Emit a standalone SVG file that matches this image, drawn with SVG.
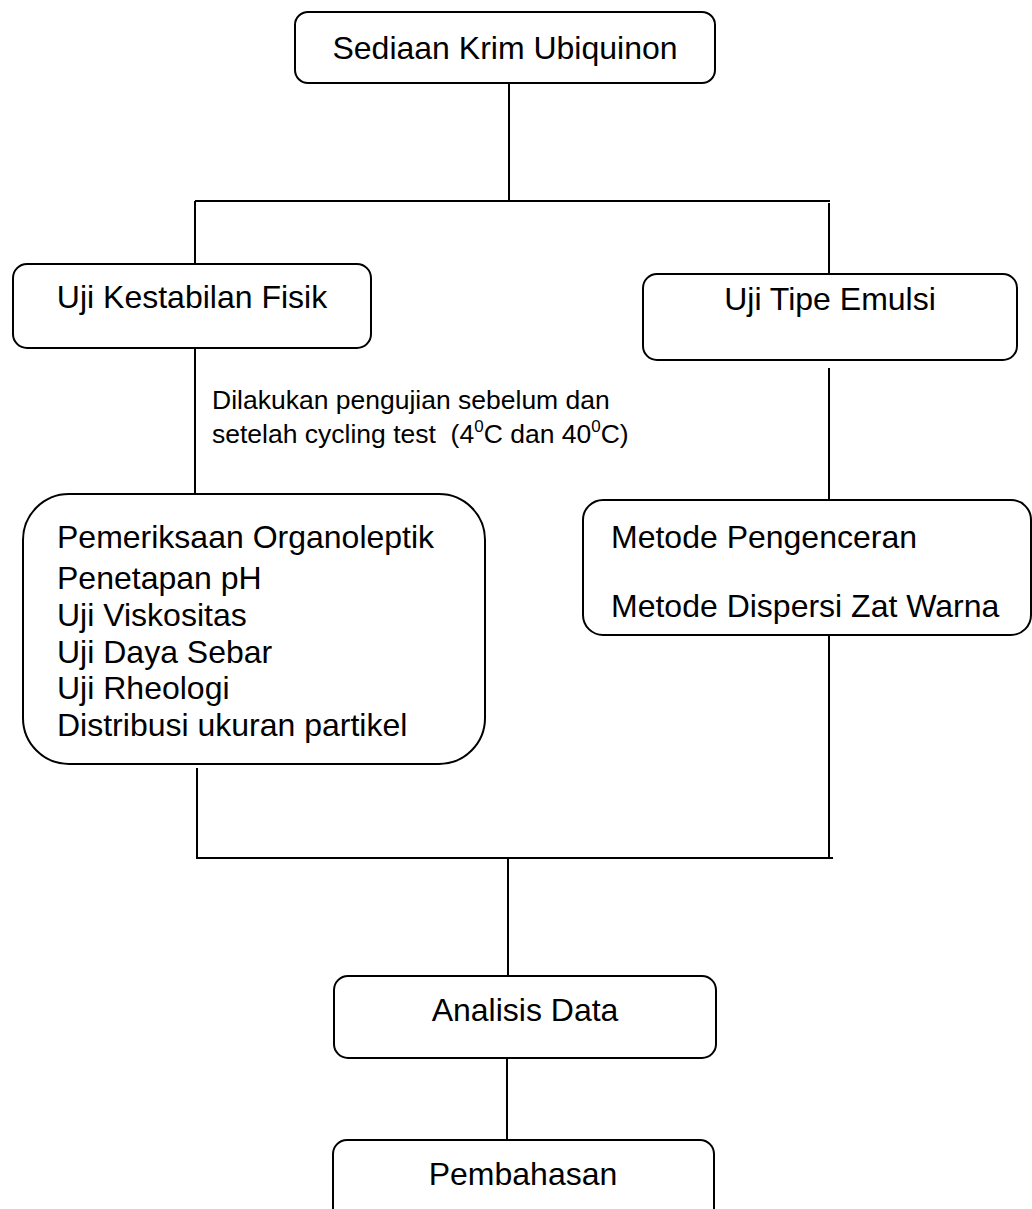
<svg xmlns="http://www.w3.org/2000/svg" width="1032" height="1209" viewBox="0 0 1032 1209">
<style>
.box{fill:#fff;stroke:#000;stroke-width:2}
.ln{fill:none;stroke:#000;stroke-width:2}
.t{font-family:"Liberation Sans",Arial,sans-serif;font-size:32px;fill:#000}
.c{text-anchor:middle}
.s{font-family:"Liberation Sans",Arial,sans-serif;font-size:26.5px;fill:#000}
</style>
<rect width="1032" height="1209" fill="#fff"/>
<g id="connectors">
<path class="ln" d="M509 83V201M195 201H830M195 201V264M829 203V274M195 348V494M829 368V500M197 768V858M829 635V858M196 858H833M508 858V976M507 1058V1140"/>
</g>
<g id="n-sediaan">
<rect class="box" x="295" y="12" width="420" height="71" rx="13"/>
<text class="t c" x="505" y="59">Sediaan Krim Ubiquinon</text>
</g>
<g id="n-kestabilan">
<rect class="box" x="13" y="264" width="358" height="84" rx="14"/>
<text class="t c" x="192" y="308">Uji Kestabilan Fisik</text>
</g>
<g id="n-tipe">
<rect class="box" x="643" y="274" width="374" height="86" rx="14"/>
<text class="t c" x="830" y="310">Uji Tipe Emulsi</text>
</g>
<g id="n-annotation">
<text class="s" x="212" y="409">Dilakukan pengujian sebelum dan</text>
<text class="s" x="212" y="443" xml:space="preserve">setelah cycling test  (4<tspan font-size="17" dy="-11">0</tspan><tspan dy="11">C dan 40</tspan><tspan font-size="17" dy="-11">0</tspan><tspan dy="11">C)</tspan></text>
</g>
<g id="n-fisik-tests">
<rect class="box" x="23" y="494" width="462" height="270" rx="46"/>
<text class="t" x="57" y="548">Pemeriksaan Organoleptik</text>
<text class="t" x="57" y="589">Penetapan pH</text>
<text class="t" x="57" y="626">Uji Viskositas</text>
<text class="t" x="57" y="663">Uji Daya Sebar</text>
<text class="t" x="57" y="699">Uji Rheologi</text>
<text class="t" x="57" y="736">Distribusi ukuran partikel</text>
</g>
<g id="n-metode">
<rect class="box" x="583" y="500" width="448" height="135" rx="20"/>
<text class="t" x="611" y="548">Metode Pengenceran</text>
<text class="t" x="611" y="617">Metode Dispersi Zat Warna</text>
</g>
<g id="n-analisis">
<rect class="box" x="334" y="976" width="382" height="82" rx="14"/>
<text class="t c" x="525" y="1021">Analisis Data</text>
</g>
<g id="n-pembahasan">
<rect class="box" x="333" y="1140" width="381" height="90" rx="14"/>
<text class="t c" x="523" y="1185">Pembahasan</text>
</g>
</svg>
